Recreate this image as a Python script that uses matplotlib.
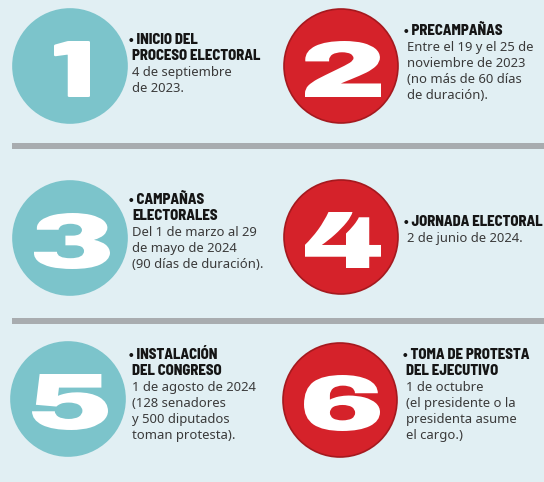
import matplotlib
matplotlib.use("Agg")
import matplotlib.pyplot as plt
from matplotlib.patches import Circle, Rectangle, PathPatch
from matplotlib.textpath import TextPath
from matplotlib.font_manager import FontProperties
from matplotlib.transforms import Affine2D

# contenido de la infografía
numeros = ["1", "2", "3", "4", "5", "6"]
titulos = [
    "• INICIO DEL\nPROCESO ELECTORAL",
    "• PRECAMPAÑAS",
    "• CAMPAÑAS\nELECTORALES",
    "• JORNADA ELECTORAL",
    "• INSTALACIÓN\nDEL CONGRESO",
    "• TOMA DE PROTESTA\nDEL EJECUTIVO",
]
detalles = [
    "4 de septiembre\nde 2023.",
    "Entre el 19 y el 25 de\nnoviembre de 2023\n(no más de 60 días\nde duración).",
    "Del 1 de marzo al 29\nde mayo de 2024\n(90 días de duración).",
    "2 de junio de 2024.",
    "1 de agosto de 2024\n(128 senadores\ny 500 diputados\ntoman protesta).",
    "1 de octubre\n(el presidente o la\npresidenta asume\nel cargo.)",
]

# layout
centros = [(70, 66), (341, 66), (70, 238), (341, 237), (68, 399), (340, 400)]
texto_x = [132, 407, 132, 407, 132, 406]
texto_y = [40, 31, 200, 222, 355, 355]
colores = ["#7cc4cb", "#d5222a"] * 3
bordes = ["#7cc4cb", "#a5191e"] * 3
separadores = [146, 321]

fondo = "#e1eff3"
paso = 15.8

fig = plt.figure(figsize=(5.44, 4.82), dpi=100)
fig.patch.set_facecolor(fondo)
ax = fig.add_axes([0, 0, 1, 1])
ax.set_xlim(0, 544)
ax.set_ylim(482, 0)
ax.axis("off")

for y in separadores:
    ax.add_patch(Rectangle((12, y - 3), 540, 6, color="#a8acaf", lw=0))

# números grandes: fuente negra ensanchada
fp_uno = FontProperties(family=["Barlow", "DejaVu Sans"], weight=900)
fp_num = FontProperties(family=["Archivo Black", "Barlow", "DejaVu Sans"], weight=900)
for num, (cx, cy), c, b in zip(numeros, centros, colores, bordes):
    ax.add_patch(Circle((cx, cy), 57, facecolor=c, edgecolor=b, lw=1.2))
    tp = TextPath((0, 0), num, size=50, prop=fp_uno if num == "1" else fp_num)
    bb = tp.get_extents()
    w = 36 if num == "1" else 76
    h = 56
    tr = (Affine2D()
          .translate(-(bb.x0 + bb.width / 2), -(bb.y0 + bb.height / 2))
          .scale(w / bb.width, -h / bb.height)
          .translate(cx + 2, cy + 3))
    ax.add_patch(PathPatch(tr.transform_path(tp), facecolor="white", lw=0))

for tit, det, x, y in zip(titulos, detalles, texto_x, texto_y):
    n_tit = tit.count("\n") + 1
    for i, linea in enumerate(tit.split("\n")):
        dx = -3 if linea.startswith("•") else 0
        ax.text(x + dx, y + i * paso, linea, fontsize=10.5, fontweight=800,
                family=["Barlow Semi Condensed", "Barlow Condensed", "DejaVu Sans"],
                color="#151515", va="center", ha="left")
    for j, linea in enumerate(det.split("\n")):
        ax.text(x, y + (n_tit + j) * paso + 1, linea, fontsize=9.4,
                family=["Noto Sans", "DejaVu Sans"],
                color="#3a3a3a", va="center", ha="left")

fig.savefig("out.png", dpi=100, facecolor=fondo)
